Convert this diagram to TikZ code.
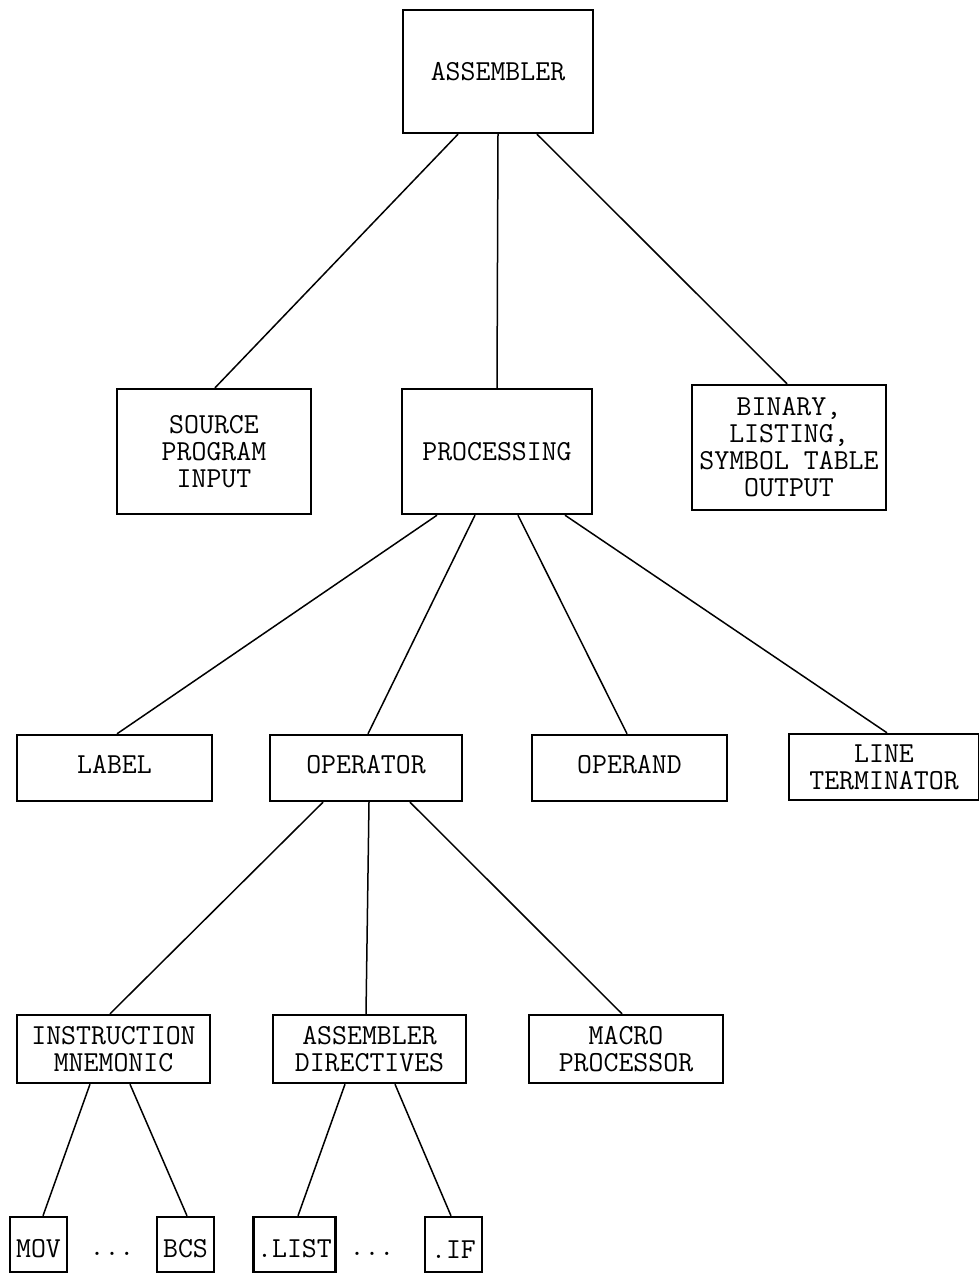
\documentclass[tikz,border=0pt]{standalone}
\usepackage{xcolor}
\usepackage{tikz}

\begin{document}
\begin{tikzpicture}[x=1pt,y=-1pt,
  blk/.style={draw, line width=2.4pt, inner sep=0pt, align=center,
    font=\fontsize{29}{27}\selectfont\ttfamily},
  link/.style={line width=1.5pt}]
\useasboundingbox (0,0) rectangle (978,1274);

% top level
\node[blk, minimum width=190pt, minimum height=123pt] (asm) at (498,71.5) {ASSEMBLER};

% second level
\node[blk, minimum width=194pt, minimum height=125pt] (src) at (214,451.5) {SOURCE\\PROGRAM\\INPUT};
\node[blk, minimum width=190pt, minimum height=125pt] (proc) at (497,451.5) {PROCESSING};
\node[blk, minimum width=194pt, minimum height=125pt] (out) at (789,447.5) {BINARY,\\LISTING,\\SYMBOL TABLE\\OUTPUT};

% third level
\node[blk, minimum width=195pt, minimum height=66pt, text depth=8pt] (lbl) at (114.5,768) {LABEL};
\node[blk, minimum width=192pt, minimum height=66pt, text depth=8pt] (opr) at (366,768) {OPERATOR};
\node[blk, minimum width=195pt, minimum height=66pt, text depth=8pt] (opd) at (629.5,768) {OPERAND};
\node[blk, minimum width=190pt, minimum height=66pt] (term) at (884,767) {LINE\\TERMINATOR};

% fourth level
\node[blk, minimum width=193pt, minimum height=68pt] (instr) at (113.5,1049) {INSTRUCTION\\MNEMONIC};
\node[blk, minimum width=193pt, minimum height=68pt] (dir) at (369.5,1049) {ASSEMBLER\\DIRECTIVES};
\node[blk, minimum width=194pt, minimum height=68pt] (macro) at (626,1049) {MACRO\\PROCESSOR};

% leaves
\node[blk, minimum width=57pt, minimum height=55pt, text height=27pt] (mov) at (38.5,1244.5) {MOV};
\node[blk, minimum width=57pt, minimum height=55pt, text height=27pt] (bcs) at (185.5,1244.5) {BCS};
\node[blk, minimum width=82pt, minimum height=55pt, text height=27pt] (list) at (294.5,1244.5) {.LIST};
\node[blk, minimum width=57pt, minimum height=55pt, text height=27pt] (ifd) at (453.5,1244.5) {.IF};
\node[font=\fontsize{29}{27}\selectfont\ttfamily, anchor=base] (dotsA) at (112,1255) {...};
\node[font=\fontsize{29}{27}\selectfont\ttfamily, anchor=base] (dotsB) at (372,1255) {...};

% connectors
\foreach \a/\da/\b/\db in {asm/-40/src/1, asm/0/proc/0, asm/39/out/-2,
    proc/-60/lbl/2.5, proc/-22/opr/2, proc/21/opd/-2.5, proc/68/term/3,
    opr/-43/instr/-3.5, opr/3/dir/-3.5, opr/44/macro/-4,
    instr/-23.5/mov/4.5, instr/16.5/bcs/1.5, dir/-24.5/list/3.5, dir/25.5/ifd/-2.5}
  \draw[link] ([xshift=\da pt]\a.south) -- ([xshift=\db pt]\b.north);
\end{tikzpicture}
\end{document}
